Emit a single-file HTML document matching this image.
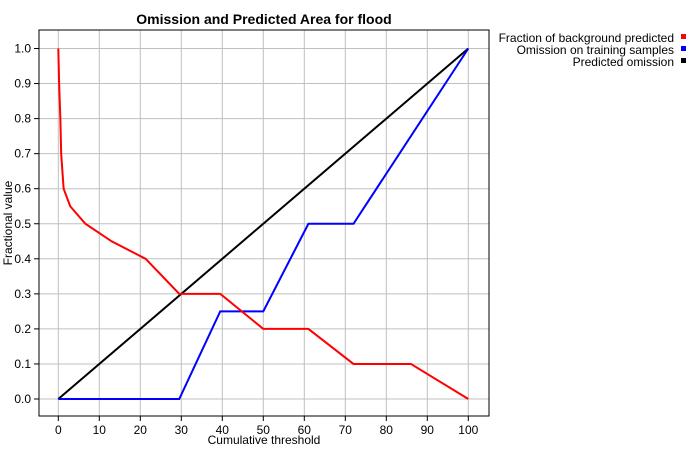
<!DOCTYPE html>
<html><head><meta charset="utf-8"><style>
body{margin:0;background:#fff;font-family:"Liberation Sans",sans-serif}
</style></head><body>
<svg id="c" width="700" height="450" xmlns="http://www.w3.org/2000/svg" font-family="Liberation Sans, sans-serif"></svg>
<script>
const xTicks=[0,10,20,30,40,50,60,70,80,90,100];
const yTicks=[0,0.1,0.2,0.3,0.4,0.5,0.6,0.7,0.8,0.9,1.0];
const bgX=[0,0.2,0.5,0.7,1.3,2.9,6.6,13,21.3,29.5,39.5,50,61,72,86,100];
const bgY=[1.0,0.9,0.8,0.7,0.6,0.55,0.5,0.45,0.4,0.3,0.3,0.2,0.2,0.1,0.1,0];
const omX=[0,29.5,39.5,50,61,72,100];
const omY=[0,0,0.25,0.25,0.5,0.5,1];
const predX=[0,100];
const predY=[0,1];
const L=39,T=30,R=489,B=416;
const sx=v=>58.3+v*4.1, sy=v=>399-v*350.5;
const svg=document.getElementById('c');const NS='http://www.w3.org/2000/svg';
function el(t,a,txt){const e=document.createElementNS(NS,t);for(const k in a)e.setAttribute(k,a[k]);if(txt!=null)e.textContent=txt;svg.appendChild(e);return e;}
xTicks.forEach(v=>{const x=sx(v);
const g=el('line',{x1:x,x2:x,y1:T,y2:B,stroke:'#c0c0c0'});


const tk=el('line',{x1:x,x2:x,y1:B,y2:B+5,stroke:'#000'});


const t=el('text',{x:x,y:B+18,'text-anchor':'middle','font-size':12},v);

});
yTicks.forEach(v=>{const y=sy(v);
const g=el('line',{x1:L,x2:R,y1:y,y2:y,stroke:'#c0c0c0'});


const tk=el('line',{x1:L-5,x2:L,y1:y,y2:y,stroke:'#000'});


const t=el('text',{x:L-8,y:y+4,'text-anchor':'end','font-size':12},v.toFixed(1));

});
const fr=el('rect',{x:L,y:T,width:R-L,height:B-T,fill:'none',stroke:'#000','stroke-width':1});


function line(xs,ys,c,n){const p=el('polyline',{points:xs.map((x,i)=>sx(x)+','+sy(ys[i])).join(' '),fill:'none',stroke:c,'stroke-width':2});

}
line(predX,predY,'#000','predicted-omission-line');
line(omX,omY,'#0000ff','omission-training-line');
line(bgX,bgY,'#ff0000','background-predicted-line');
const ti=el('text',{x:264,y:24,'text-anchor':'middle','font-size':14,'font-weight':'bold'},'Omission and Predicted Area for flood');


const xt=el('text',{x:264,y:444,'text-anchor':'middle','font-size':12},'Cumulative threshold');


const yt=el('text',{x:12,y:223,'text-anchor':'middle','font-size':12,transform:'rotate(-90 12 223)'},'Fractional value');


[['Fraction of background predicted','#ff0000',42],['Omission on training samples','#0000ff',54],['Predicted omission','#000',66]].forEach(d=>{
const t=el('text',{x:674,y:d[2],'text-anchor':'end','font-size':12},d[0]);


const r=el('rect',{x:681,y:d[2]-8,width:5,height:5,fill:d[1]});

});
</script>
</body></html>
